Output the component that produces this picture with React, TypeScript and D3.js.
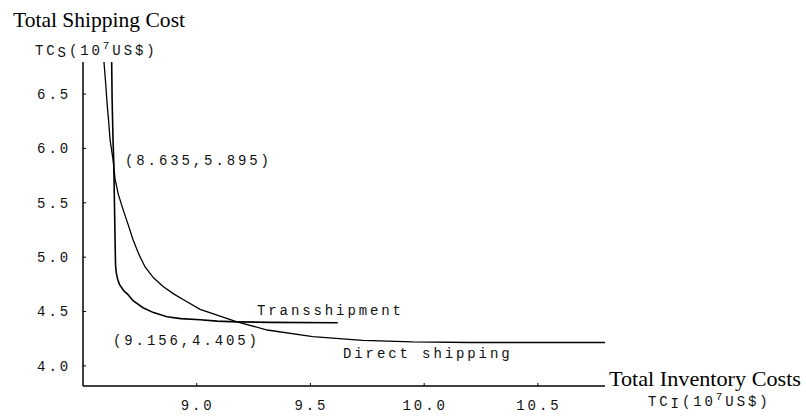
import React from "react";
import * as d3 from "d3";

const transX = [8.626, 8.628, 8.632, 8.635, 8.638, 8.641, 8.643, 8.646, 8.652, 8.660, 8.680, 8.698, 8.720, 8.764, 8.810, 8.869, 8.930, 9.015, 9.090, 9.177, 9.320, 9.620];
const transY = [6.80, 6.45, 6.08, 5.895, 5.53, 5.16, 4.93, 4.86, 4.80, 4.75, 4.69, 4.655, 4.60, 4.535, 4.49, 4.452, 4.435, 4.424, 4.412, 4.405, 4.40, 4.397];

const directX = [8.592, 8.600, 8.606, 8.612, 8.619, 8.632, 8.641, 8.655, 8.676, 8.700, 8.720, 8.745, 8.773, 8.810, 8.852, 8.900, 8.940, 9.015, 9.070, 9.177, 9.310, 9.510, 9.730, 9.950, 10.200, 10.500, 10.795];
const directY = [6.80, 6.59, 6.41, 6.27, 6.08, 5.90, 5.72, 5.58, 5.44, 5.29, 5.16, 5.03, 4.91, 4.81, 4.73, 4.66, 4.61, 4.52, 4.48, 4.405, 4.33, 4.27, 4.235, 4.22, 4.215, 4.215, 4.215];

const xTicks = [9.0, 9.5, 10.0, 10.5];
const yTicks = [4.0, 4.5, 5.0, 5.5, 6.0, 6.5];

const annotations = [
  { text: "(8.635,5.895)", x: 125, y: 165 },
  { text: "(9.156,4.405)", x: 113, y: 345 },
  { text: "Transshipment", x: 257, y: 315 },
  { text: "Direct shipping", x: 343, y: 358 },
];

const mono = "'Liberation Mono', 'Courier New', monospace";
const serif = "'Liberation Serif', 'Times New Roman', serif";

export default function App() {
  const x = d3.scaleLinear().domain([8.5, 10.795]).range([83, 605]);
  const y = d3.scaleLinear().domain([3.815, 6.795]).range([386, 62]);
  const line = d3
    .line<[number, number]>()
    .x((d) => x(d[0]))
    .y((d) => y(d[1]))
    .curve(d3.curveLinear);
  const trans = transX.map((v, i) => [v, transY[i]] as [number, number]);
  const direct = directX.map((v, i) => [v, directY[i]] as [number, number]);
  const monoStyle = { fontFamily: mono, fontSize: 14, letterSpacing: "2.9px", fill: "#111" };

  return (
    <svg
      width={806}
      height={419}
      style={{ position: "absolute", left: 0, top: 0, background: "#fff" }}
    >
      <defs>
        <clipPath id="plot">
          <rect x={83} y={62} width={530} height={324} />
        </clipPath>
      </defs>
      <rect width={806} height={419} fill="#fff" />
      {/* axes */}
      <line x1={83} y1={62} x2={83} y2={386} stroke="#000" strokeWidth={1.5} />
      <line x1={83} y1={386} x2={605} y2={386} stroke="#000" strokeWidth={1.5} />
      {yTicks.map((t) => (
        <g key={"y" + t}>
          <line x1={83} x2={86} y1={y(t)} y2={y(t)} stroke="#000" strokeWidth={1} />
          <text x={71} y={y(t)} dy="0.35em" textAnchor="end" style={monoStyle}>
            {t.toFixed(1)}
          </text>
        </g>
      ))}
      {xTicks.map((t) => (
        <g key={"x" + t}>
          <line x1={x(t)} x2={x(t)} y1={386} y2={383} stroke="#000" strokeWidth={1} />
          <text x={x(t) + 1} y={410} textAnchor="middle" style={monoStyle}>
            {t.toFixed(1)}
          </text>
        </g>
      ))}
      {/* curves */}
      <g clipPath="url(#plot)" fill="none" stroke="#000" strokeWidth={1.6}>
        <path d={line(trans) || ""} />
        <path d={line(direct) || ""} strokeWidth={1.3} />
      </g>
      {annotations.map((a) => (
        <text key={a.text} x={a.x} y={a.y} style={monoStyle}>
          {a.text}
        </text>
      ))}
      {/* axis titles */}
      <text
        x={13}
        y={27}
        textLength={172}
        lengthAdjust="spacingAndGlyphs"
        style={{ fontFamily: serif, fontSize: 21, fill: "#000" }}
      >
        Total Shipping Cost
      </text>
      <text x={35} y={55} style={monoStyle}>
        TC
        <tspan dy={2}>S</tspan>
        <tspan dy={-2}>(10</tspan>
        <tspan dy={-6} fontSize={11}>7</tspan>
        <tspan dy={6}>US$)</tspan>
      </text>
      <text
        x={609}
        y={386}
        textLength={192}
        lengthAdjust="spacingAndGlyphs"
        style={{ fontFamily: serif, fontSize: 22, fill: "#000" }}
      >
        Total Inventory Costs
      </text>
      <text x={648} y={406} style={monoStyle}>
        TC
        <tspan dy={2}>I</tspan>
        <tspan dy={-2}>(10</tspan>
        <tspan dy={-6} fontSize={11}>7</tspan>
        <tspan dy={6}>US$)</tspan>
      </text>
    </svg>
  );
}
